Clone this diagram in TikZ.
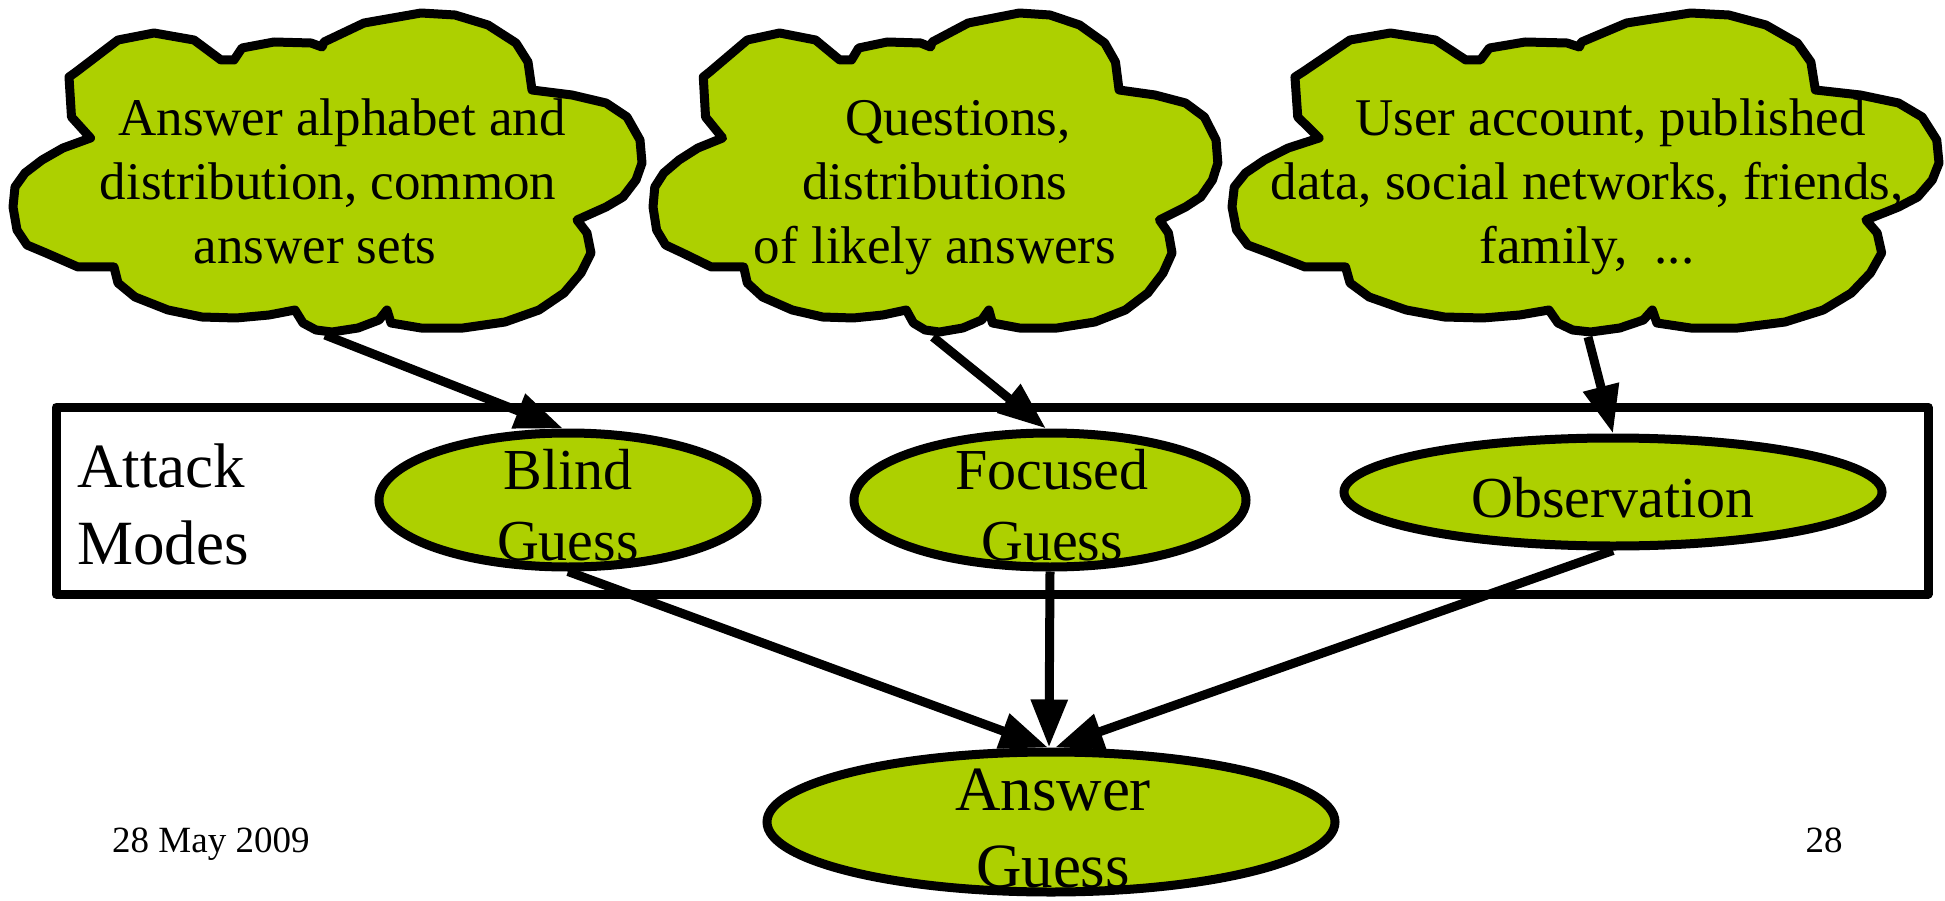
\documentclass[tikz,border=0pt]{standalone}
\usepackage{fontspec}
\setmainfont{Liberation Serif}
\usetikzlibrary{arrows.meta,shapes.geometric}
\definecolor{leaf}{RGB}{173,208,0}
% zero-width strut fixing the top of a first text line
\newcommand{\ascstrut}{\rule{0pt}{0.8em}}

\tikzset{
  bubble/.style={draw=black, fill=leaf, line width=9pt, line join=round},
  mode/.style={ellipse, draw=black, fill=leaf, line width=9pt, inner sep=0pt},
  frame/.style={draw=black, line width=9pt, line join=round, inner sep=0pt},
  conn/.style={line width=9pt, -{Triangle[length=48pt,width=35pt]}},
  words/.style={inner sep=0pt, align=center, anchor=north},
  cloudfont/.style={font=\fontsize{53}{64}\selectfont},
  modefont/.style={font=\fontsize{58}{71}\selectfont},
  bigfont/.style={font=\fontsize{63}{77}\selectfont},
  footfont/.style={font=\fontsize{37}{44}\selectfont},
  cloudshape/.pic={
    \path[bubble] (77.5,138) -- (58.5,117) -- (56,77) -- (63,72) -- (105,40)
      -- (141,33) -- (181,40) -- (208,60) -- (221,60) -- (229,48) -- (261,42)
      -- (298,43) -- (309,47) -- (311,42) -- (351,23) -- (408,13) -- (442,15)
      -- (475,25) -- (503,43) -- (515,62) -- (519,90) -- (559,95) -- (593,103)
      -- (614,117) -- (627,140) -- (629,163) -- (623,180) -- (610,197)
      -- (593,207) -- (564,220) -- (574,233) -- (578,253) -- (568,273)
      -- (551,293) -- (526,310) -- (492,322) -- (450,328) -- (408,328)
      -- (378,323) -- (374,310) -- (366,320) -- (345,328) -- (319,332)
      -- (303,330) -- (290,323) -- (282,310) -- (256,315) -- (223,318)
      -- (189,317) -- (155,310) -- (122,297) -- (105,283) -- (101,267)
      -- (65,267) -- (33,253) -- (14,245) -- (4,230) -- (0,207) -- (2,187)
      -- (12,173) -- (29,160) -- (50,148) -- cycle;
  }
}

\begin{document}
\begin{tikzpicture}[x=1pt, y=-1pt]
\useasboundingbox (0,0) rectangle (1945,901);

% frame around the attack modes
\node[frame, minimum width=1872pt, minimum height=187pt] (modes) at (992,500.5) {};
\node[bigfont, inner sep=0pt, align=left, anchor=north west] (modeslabel) at (77,436.6)
  {\ascstrut Attack\\Modes};

% knowledge sources
\pic at (13,0) {cloudshape};
\pic[xscale=0.898] at (653,0) {cloudshape};
\pic[xscale=1.124] at (1232,0) {cloudshape};

\node[words, cloudfont] (alphabet) at (328,92.6)
  {\ascstrut\hspace*{28pt}Answer alphabet and\\distribution, common\\answer sets\hspace*{26pt}};
\node[words, cloudfont] (questions) at (935,92.6)
  {\ascstrut\hspace*{46pt}Questions,\\distributions\hspace*{12pt}\\of likely answers};
\node[words, cloudfont] (account) at (1587,92.6)
  {\ascstrut\hspace*{47pt}User account, published\\data, social networks, friends,\\family,\ \ ...};

\coordinate (alphabettail) at (325,335);
\coordinate (questionstail) at (933,337);
\coordinate (accounttail) at (1588,337);

% attack modes
\node[mode, minimum width=378pt, minimum height=134pt] (blind) at (568,500) {};
\node[mode, minimum width=392pt, minimum height=134pt] (focused) at (1050,500) {};
\node[mode, minimum width=538pt, minimum height=108pt] (observation) at (1613,492) {};
\node[mode, minimum width=568pt, minimum height=140pt] (answer) at (1051,822) {};

\node[words, modefont] (blindtext) at (568,442.6) {\ascstrut Blind\\Guess};
\node[words, modefont] (focusedtext) at (1052,442.6) {\ascstrut Focused\\Guess};
\node[words, modefont] (observationtext) at (1613,470.6) {\ascstrut Observation};
\node[words, bigfont] (answertext) at (1053,759.6) {\ascstrut Answer\\Guess};

% footer
\node[footfont, inner sep=0pt, anchor=base west] (date) at (112,852) {28 May 2009};
\node[footfont, inner sep=0pt, anchor=base] (page) at (1824,852) {28};

% connectors
\draw[conn] (alphabettail) -- ([xshift=-5pt]blind.north);
\draw[conn] (questionstail) -- ([xshift=-4pt]focused.north);
\draw[conn] (accounttail) -- (observation.north);
\draw[conn] (blind.south) -- ([xshift=-3pt]answer.north);
\draw[conn] (focused.south) -- ([xshift=-2pt]answer.north);
\draw[conn] (observation.south) -- ([xshift=4pt]answer.north);
\end{tikzpicture}
\end{document}
